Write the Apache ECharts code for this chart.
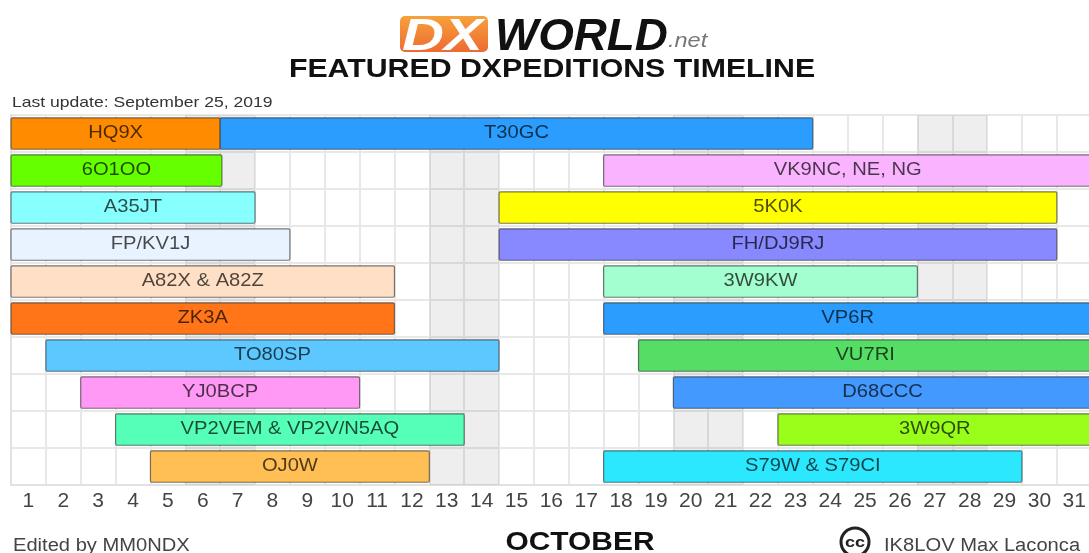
<!DOCTYPE html>
<html>
<head>
<meta charset="utf-8">
<title>Featured DXpeditions timeline</title>
<style>
  html, body { margin: 0; padding: 0; background: #fff; overflow: hidden; }
  #chart { width: 1089px; height: 553px; }
</style>
<script src="https://cdn.jsdelivr.net/npm/echarts@6/dist/echarts.min.js"></script>
</head>
<body>
<div id="chart"></div>
<script>
const days = ['1','2','3','4','5','6','7','8','9','10','11','12','13','14','15','16','17','18','19','20','21','22','23','24','25','26','27','28','29','30','31'];
const lanes = ['0','1','2','3','4','5','6','7','8','9'];

// each expedition: lane, day boundary it starts on, day boundary it ends on
const callsigns = ['HQ9X','T30GC','6O1OO','VK9NC, NE, NG','A35JT','5K0K','FP/KV1J','FH/DJ9RJ','A82X & A82Z','3W9KW','ZK3A','VP6R','TO80SP','VU7RI','YJ0BCP','D68CCC','VP2VEM & VP2V/N5AQ','3W9QR','OJ0W','S79W & S79CI'];
const laneOf = [0,0,1,1,2,2,3,3,4,4,5,5,6,6,7,7,8,8,9,9];
const startDay = [0,6,0,17,0,14,0,14,0,17,0,17,1,18,2,19,3,22,4,17];
const endDay = [6,23,6.05,31,7,30,8,30,11,26,11,31,14,31,10,31,13,31,12,29];
const barColors = ['#ff8c00','#2b9dff','#66ff00','#f9b3ff','#88ffff','#ffff00','#e9f2ff','#8888ff','#ffe0c6','#a4ffd0','#ff7518','#2b9dff','#5cc8ff','#55dd66','#ff99f5','#4499ff','#55ffb8','#99ff1a','#ffbf55','#2be8ff'];

const weekendStart = [5,12,19,26];
const weekendEnd = [7,14,21,28];

const chart = echarts.init(document.getElementById('chart'));

const textFont = '"Liberation Sans", Arial, sans-serif';

chart.setOption({
  animation: false,
  grid: { left: 11, top: 115, width: 1080.7, height: 370, outerBoundsMode: 'none' },
  xAxis: [
    {
      type: 'value', min: 0, max: 31, interval: 1, position: 'bottom',
      axisLabel: { show: false }, axisTick: { show: false },
      axisLine: { show: true, lineStyle: { color: '#e2e2e2', width: 2 } },
      splitLine: { show: true, lineStyle: { color: '#e8e8e8', width: 2 } }
    },
    {
      type: 'category', data: days, position: 'bottom',
      axisLine: { show: false }, axisTick: { show: false },
      axisLabel: { interval: 0, color: '#444444', fontSize: 21, fontFamily: textFont, margin: 6 }
    }
  ],
  yAxis: {
    type: 'category', data: lanes, inverse: true,
    axisLabel: { show: false }, axisTick: { show: false },
    axisLine: { show: true, lineStyle: { color: '#e2e2e2', width: 2 } },
    splitLine: { show: true, lineStyle: { color: '#e8e8e8', width: 2 } }
  },
  series: [
    {
      // weekend columns behind the bars
      type: 'custom', name: 'weekends', xAxisIndex: 0, z: 1, silent: true, clip: false,
      data: weekendStart.map((s, i) => [s, weekendEnd[i]]),
      encode: { x: [0, 1] },
      renderItem: (params, api) => {
        const a = api.coord([api.value(0), 0]);
        const b = api.coord([api.value(1), 0]);
        const band = api.size([0, 1])[1];
        return {
          type: 'rect',
          shape: { x: a[0], y: a[1] - band / 2, width: b[0] - a[0], height: band * lanes.length },
          style: { fill: 'rgba(0,0,0,0.065)' }
        };
      }
    },
    {
      type: 'custom', name: 'expeditions', xAxisIndex: 0, z: 3, silent: true, clip: false,
      data: callsigns.map((c, i) => [startDay[i], endDay[i], laneOf[i], c]),
      encode: { x: [0, 1], y: 2 },
      renderItem: (params, api) => {
        const i = params.dataIndex;
        const a = api.coord([api.value(0), api.value(2)]);
        const b = api.coord([api.value(1), api.value(2)]);
        const h = api.size([0, 1])[1] * 0.85;
        return {
          type: 'group',
          children: [
            {
              type: 'rect',
              shape: { x: a[0], y: a[1] - h / 2, width: b[0] - a[0], height: h, r: 1.5 },
              style: { fill: barColors[i], stroke: 'rgba(50,50,50,0.65)', lineWidth: 1.2 }
            },
            {
              type: 'text',
              x: (a[0] + b[0]) / 2, y: a[1] - 1,
              scaleX: 1.09,
              style: {
                text: callsigns[i], fill: 'rgba(0,0,0,0.7)',
                font: '18.5px ' + textFont, align: 'center', verticalAlign: 'middle'
              }
            }
          ]
        };
      }
    }
  ],
  graphic: [
    // logo
    {
      type: 'rect', z: 10,
      shape: { x: 400, y: 16, width: 88, height: 36, r: 5 },
      style: {
        fill: new echarts.graphic.LinearGradient(0, 0, 0, 1, [
          { offset: 0, color: '#f6a13c' }, { offset: 1, color: '#ee6a32' }
        ])
      }
    },
    {
      type: 'text', z: 11, x: 402, y: 38,
      scaleX: 1.32,
      style: { text: 'DX', fill: '#ffffff', font: 'italic bold 44px ' + textFont, verticalAlign: 'middle' }
    },
    {
      type: 'text', z: 11, x: 495, y: 38,
      scaleX: 1.04,
      style: { text: 'WORLD', fill: '#111111', font: 'italic bold 44px ' + textFont, verticalAlign: 'middle' }
    },
    {
      type: 'text', z: 11, x: 668, y: 41,
      scaleX: 1.12,
      style: { text: '.net', fill: '#777777', font: 'italic 21px ' + textFont, verticalAlign: 'middle' }
    },
    {
      type: 'text', z: 11, x: 552, y: 70,
      scaleX: 1.165,
      style: { text: 'FEATURED DXPEDITIONS TIMELINE', fill: '#111111', font: 'bold 26px ' + textFont, align: 'center', verticalAlign: 'middle' }
    },
    {
      type: 'text', z: 11, x: 12, y: 103,
      scaleX: 1.17,
      style: { text: 'Last update: September 25, 2019', fill: '#333333', font: '15px ' + textFont, verticalAlign: 'middle' }
    },
    {
      type: 'text', z: 11, x: 13, y: 546,
      scaleX: 1.15,
      style: { text: 'Edited by MM0NDX', fill: '#444444', font: '17.5px ' + textFont, verticalAlign: 'middle' }
    },
    {
      type: 'text', z: 11, x: 580, y: 543,
      scaleX: 1.15,
      style: { text: 'OCTOBER', fill: '#111111', font: 'bold 26px ' + textFont, align: 'center', verticalAlign: 'middle' }
    },
    {
      type: 'circle', z: 11, shape: { cx: 855, cy: 542, r: 14 },
      style: { fill: '#ffffff', stroke: '#222222', lineWidth: 3 }
    },
    {
      type: 'text', z: 12, x: 855, y: 543,
      scaleX: 1.2,
      style: { text: 'cc', fill: '#222222', font: 'bold 15px ' + textFont, align: 'center', verticalAlign: 'middle' }
    },
    {
      type: 'text', z: 11, x: 884, y: 546,
      scaleX: 1.12,
      style: { text: 'IK8LOV Max Laconca', fill: '#444444', font: '18px ' + textFont, verticalAlign: 'middle' }
    }
  ]
});

window.addEventListener('resize', () => chart.resize());
</script>
</body>
</html>
